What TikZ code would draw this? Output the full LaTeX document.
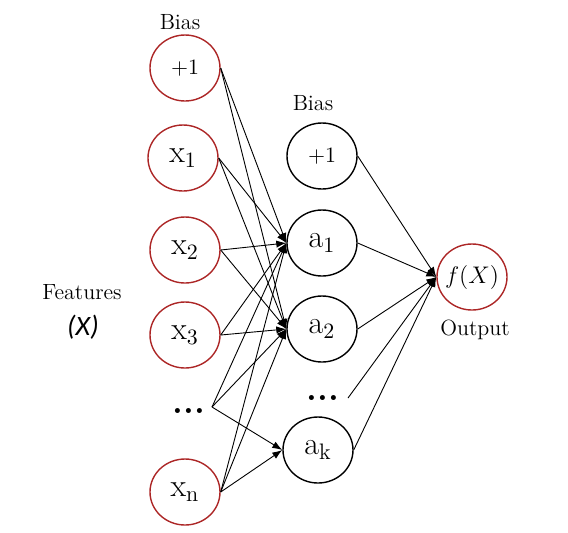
\documentclass[tikz,border=0pt]{standalone}
\usepackage{fontspec}
\newfontfamily\calfont{Carlito}
\usetikzlibrary{shapes.geometric,arrows.meta}
\definecolor{neuronred}{RGB}{172,38,38}
\tikzset{
	neuron/.style={draw, ellipse, minimum width=35pt, minimum height=33pt, inner sep=0pt, line width=0.7pt},
	inneuron/.style={neuron, draw=neuronred},
	conn/.style={-{Latex[length=5pt,width=3.6pt]}, line width=0.45pt},
	lbl/.style={font=\fontsize{11}{13}\selectfont},
	vars/.style={font=\fontsize{16}{18}\selectfont},
}
\begin{document}
\begin{tikzpicture}[x=0.5pt,y=-0.5pt]
		\useasboundingbox (0,0) rectangle (568,532);
		
		% Camada de entrada
		\node[inneuron, font=\fontsize{11}{13}\selectfont] (ib) at (185,68) {$+1$};	% Bias entrada
		\node[inneuron, vars] (x1) at (183,158) {$\mathrm{x}_1$};
		\node[inneuron, vars] (x2) at (185,250) {$\mathrm{x}_2$};
		\node[inneuron, vars] (x3) at (185,335) {$\mathrm{x}_3$};
		\node[font=\LARGE\bfseries] (xd) at (189,411) {...};
		\coordinate (xd-e) at (212,407);
		\node[inneuron, vars] (xn) at (185,492) {$\mathrm{x}_\mathrm{n}$};
		
		% Camada oculta
		\node[neuron, font=\fontsize{11}{13}\selectfont] (hb) at (322,156) {$+1$};	% Bias oculta
		\node[neuron, vars] (a1) at (322,243) {$\mathrm{a}_1$};
		\node[neuron, vars] (a2) at (322,329) {$\mathrm{a}_2$};
		\node[font=\LARGE\bfseries] (ad) at (323,398) {...};
		\coordinate (ad-e) at (348,398);
		\node[neuron, vars] (ak) at (318,450) {$\mathrm{a}_\mathrm{k}$};
		
		% Saida
		\node[inneuron, inner xsep=-2pt] (out) at (472,277) {\fontsize{13}{15}\selectfont $f(X)$};
		
		% Rotulos
		\node[lbl] at (180,22) {Bias};
		\node[lbl] at (313,103) {Bias};
		\node[lbl] at (82,292) {Features};
		\node at (83,327) {\fontsize{14}{16}\selectfont\calfont\itshape (X)};
		\node[lbl] at (475,330) {Output};
		
		% Setas entrada -> oculta
		\draw[conn] (ib.east) -- (a1.west);
		\draw[conn] (ib.east) -- (a2.west);
		\draw[conn] (x1.east) -- (a1.west);
		\draw[conn] (x1.east) -- (a2.west);
		\draw[conn] (x2.east) -- (a1.west);
		\draw[conn] (x2.east) -- (a2.west);
		\draw[conn] (x3.east) -- (a1.west);
		\draw[conn] (x3.east) -- (a2.west);
		\draw[conn] (xd-e) -- (a1.west);
		\draw[conn] (xd-e) -- (a2.west);
		\draw[conn] (xd-e) -- (ak.west);
		\draw[conn] (xn.east) -- (a1.west);
		\draw[conn] (xn.east) -- (a2.west);
		\draw[conn] (xn.east) -- (ak.west);
		
		% Setas oculta -> saida
		\draw[conn] (hb.east) -- (out.west);
		\draw[conn] (a1.east) -- (out.west);
		\draw[conn] (a2.east) -- (out.west);
		\draw[conn] (ad-e) -- (out.west);
		\draw[conn] (ak.east) -- (out.west);
	\end{tikzpicture}
\end{document}
